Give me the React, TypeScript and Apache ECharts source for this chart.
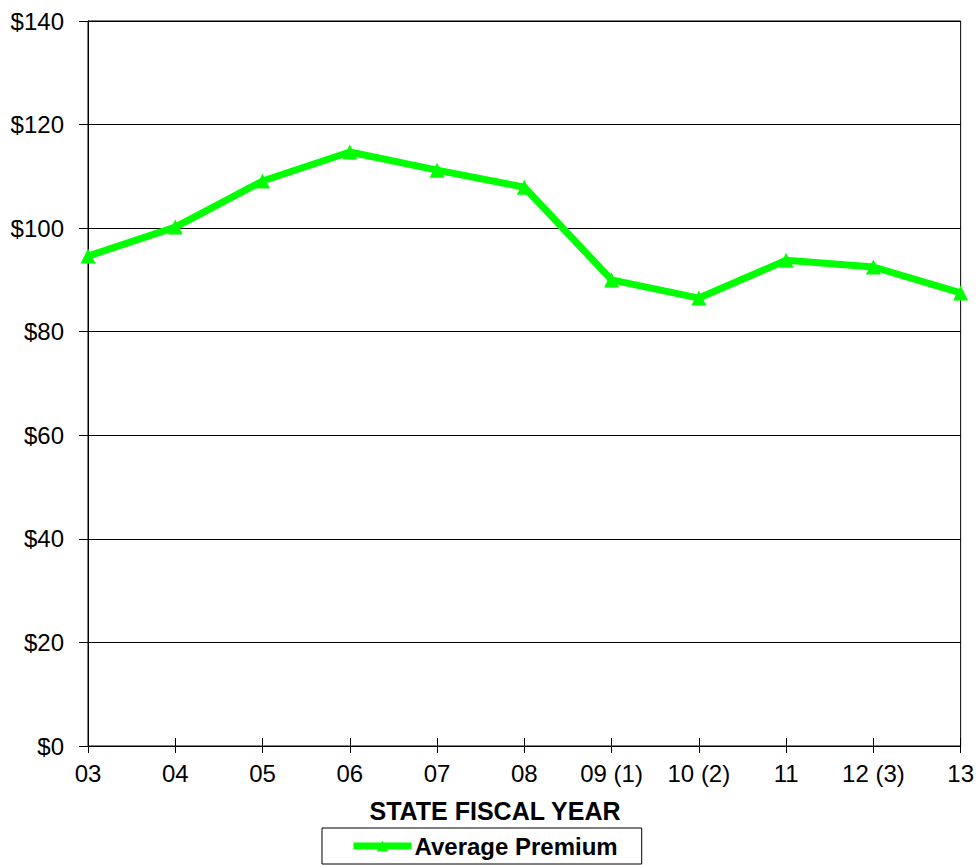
import React, { useEffect, useRef } from "react";
import * as echarts from "echarts";

const categories = ["03", "04", "05", "06", "07", "08", "09 (1)", "10 (2)", "11", "12 (3)", "13"];
const averagePremium = [94.6, 100.2, 109.1, 114.7, 111.2, 107.9, 90.0, 86.5, 93.8, 92.5, 87.5];
const yTicks = { min: 0, max: 140, interval: 20 };
const seriesName = "Average Premium";
const xTitle = "STATE FISCAL YEAR";

const FONT = "'Liberation Sans', Arial, sans-serif";

export default function App() {
  const ref = useRef<HTMLDivElement>(null);
  useEffect(() => {
    if (!ref.current) return;
    const chart = echarts.init(ref.current, null, { renderer: "svg" });
    chart.setOption({
      animation: false,
      backgroundColor: "#fff",
      textStyle: { fontFamily: FONT },
      grid: {
        left: 88,
        right: 12,
        top: 21,
        bottom: 119,
        show: true,
        borderColor: "#000",
        borderWidth: 1,
        backgroundColor: "transparent",
      },
      legend: {
        left: 322,
        top: 828,
        padding: [6, 24, 6, 28],
        itemWidth: 58,
        itemHeight: 14,
        itemGap: 10,
        borderColor: "#000",
        borderWidth: 1,
        lineStyle: { width: 7, color: "#00ff00" },
        textStyle: { fontFamily: FONT, fontSize: 24, fontWeight: "bold", color: "#000", padding: [0, 0, 0, -2] },
        data: [seriesName],
      },
      graphic: [
        {
          type: "text",
          x: 495,
          y: 811,
          style: {
            text: xTitle,
            fontFamily: FONT,
            fontSize: 25,
            fontWeight: "bold",
            fill: "#000",
            textAlign: "center",
            textVerticalAlign: "middle",
          },
        },
      ],
      xAxis: [
        {
          type: "category",
          data: categories,
          boundaryGap: false,
          axisLine: { lineStyle: { color: "#000", width: 1 } },
          axisTick: { show: true, length: 7, lineStyle: { color: "#000" } },
          axisLabel: { color: "#000", fontSize: 24, fontFamily: FONT, margin: 15, interval: 0 },
          splitLine: { show: false },
        },
        {
          type: "category",
          data: categories,
          boundaryGap: false,
          position: "bottom",
          axisLine: { show: false },
          axisTick: { show: true, inside: true, length: 8, lineStyle: { color: "#000" } },
          axisLabel: { show: false },
          splitLine: { show: false },
        },
      ],
      yAxis: {
        type: "value",
        min: yTicks.min,
        max: yTicks.max,
        interval: yTicks.interval,
        axisLine: { show: true, lineStyle: { color: "#000", width: 1 } },
        axisTick: { show: true, length: 9, lineStyle: { color: "#000" } },
        axisLabel: {
          color: "#000",
          fontSize: 24,
          fontFamily: FONT,
          margin: 24,
          formatter: (v: number) => "$" + v,
        },
        splitLine: { show: true, lineStyle: { color: "#000", width: 1 } },
      },
      series: [
        {
          name: seriesName,
          type: "line",
          data: averagePremium,
          symbol: "triangle",
          symbolSize: 15,
          lineStyle: { color: "#00ff00", width: 7 },
          itemStyle: { color: "#00ff00" },
          z: 5,
        },
      ],
    });
    return () => chart.dispose();
  }, []);
  return (
    <div
      ref={ref}
      style={{ position: "fixed", left: 0, top: 0, width: 977, height: 865, background: "#fff" }}
    />
  );
}
